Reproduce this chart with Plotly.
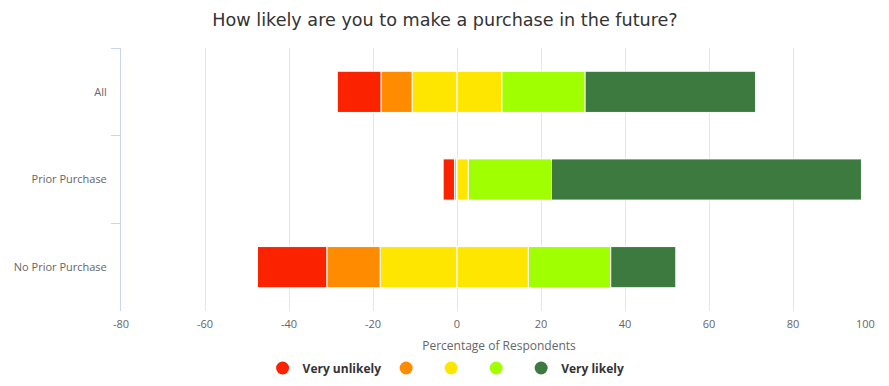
import plotly.graph_objects as go

categories = ["All", "Prior Purchase", "No Prior Purchase"]
very_unlikely = [10.4, 2.7, 16.5]
unlikely = [7.4, 0.4, 12.7]
neutral_left = [10.7, 0.2, 18.3]
neutral_right = [10.7, 2.7, 17.0]
likely = [19.8, 19.8, 19.6]
very_likely = [40.6, 73.8, 15.5]

series_names = ["Very unlikely", "", "", "", "Very likely"]
colors = ["#fb2200", "#ff8c00", "#ffe600", "#a0ff00", "#3d7a3f"]

x_ticks = [-80, -60, -40, -20, 0, 20, 40, 60, 80, 100]

fig = go.Figure()

def neg(v):
    return [-x for x in v]

bar_specs = [
    (neg(neutral_left), colors[2]),
    (neg(unlikely), colors[1]),
    (neg(very_unlikely), colors[0]),
    (neutral_right, colors[2]),
    (likely, colors[3]),
    (very_likely, colors[4]),
]
for vals, col in bar_specs:
    fig.add_trace(go.Bar(
        y=categories, x=vals, orientation="h",
        marker=dict(color=col, line=dict(color="white", width=1)),
        showlegend=False, hoverinfo="x+y",
    ))

for name, col in zip(series_names, colors):
    fig.add_trace(go.Scatter(
        x=[None], y=[None], mode="markers", name=name,
        marker=dict(color=col, size=13, symbol="circle"),
        showlegend=True,
    ))

tick_text = [str(t) for t in x_ticks]
tick_text[-1] = ""

fig.update_layout(
    width=873, height=370,
    barmode="relative",
    bargap=0.53,
    paper_bgcolor="white", plot_bgcolor="white",
    font=dict(family="Open Sans, DejaVu Sans, sans-serif", color="#666666", size=11),
    title=dict(text="How likely are you to make a purchase in the future?",
               x=0.5006, xanchor="center", y=0.968, yanchor="middle",
               font=dict(size=17.6, color="#333333", family="DejaVu Sans, sans-serif")),
    margin=dict(l=113, r=4, t=40, b=67, autoexpand=False),
    legend=dict(orientation="h", x=0.43, xanchor="center", y=-0.2167, yanchor="middle",
                font=dict(size=12, color="#333333", family="Open Sans, sans-serif", weight="bold"),
                itemwidth=30, traceorder="normal"),
    xaxis=dict(range=[-80, 100], tickvals=x_ticks, ticktext=tick_text,
               showgrid=True, gridcolor="#e6e6e6",
               zeroline=False, showline=False, ticks="",
               title=dict(text="Percentage of Respondents", font=dict(size=12, color="#666666"), standoff=11),
               tickfont=dict(size=11, color="#666666"), ticklabelstandoff=5),
    yaxis=dict(categoryorder="array", categoryarray=categories, autorange="reversed",
               showgrid=False, showline=True, linecolor="#ccd6eb", linewidth=1,
               ticks="outside", tickson="boundaries", ticklen=9, tickcolor="#ccd6eb",
               tickfont=dict(size=11, color="#666666"), ticklabelstandoff=11),
    annotations=[dict(text=str(x_ticks[-1]), x=x_ticks[-1], xref="x", xanchor="right",
                      y=0, yref="paper", yanchor="top", yshift=-3, showarrow=False,
                      font=dict(size=11, color="#666666"))],
)

fig.write_html("out.html")
